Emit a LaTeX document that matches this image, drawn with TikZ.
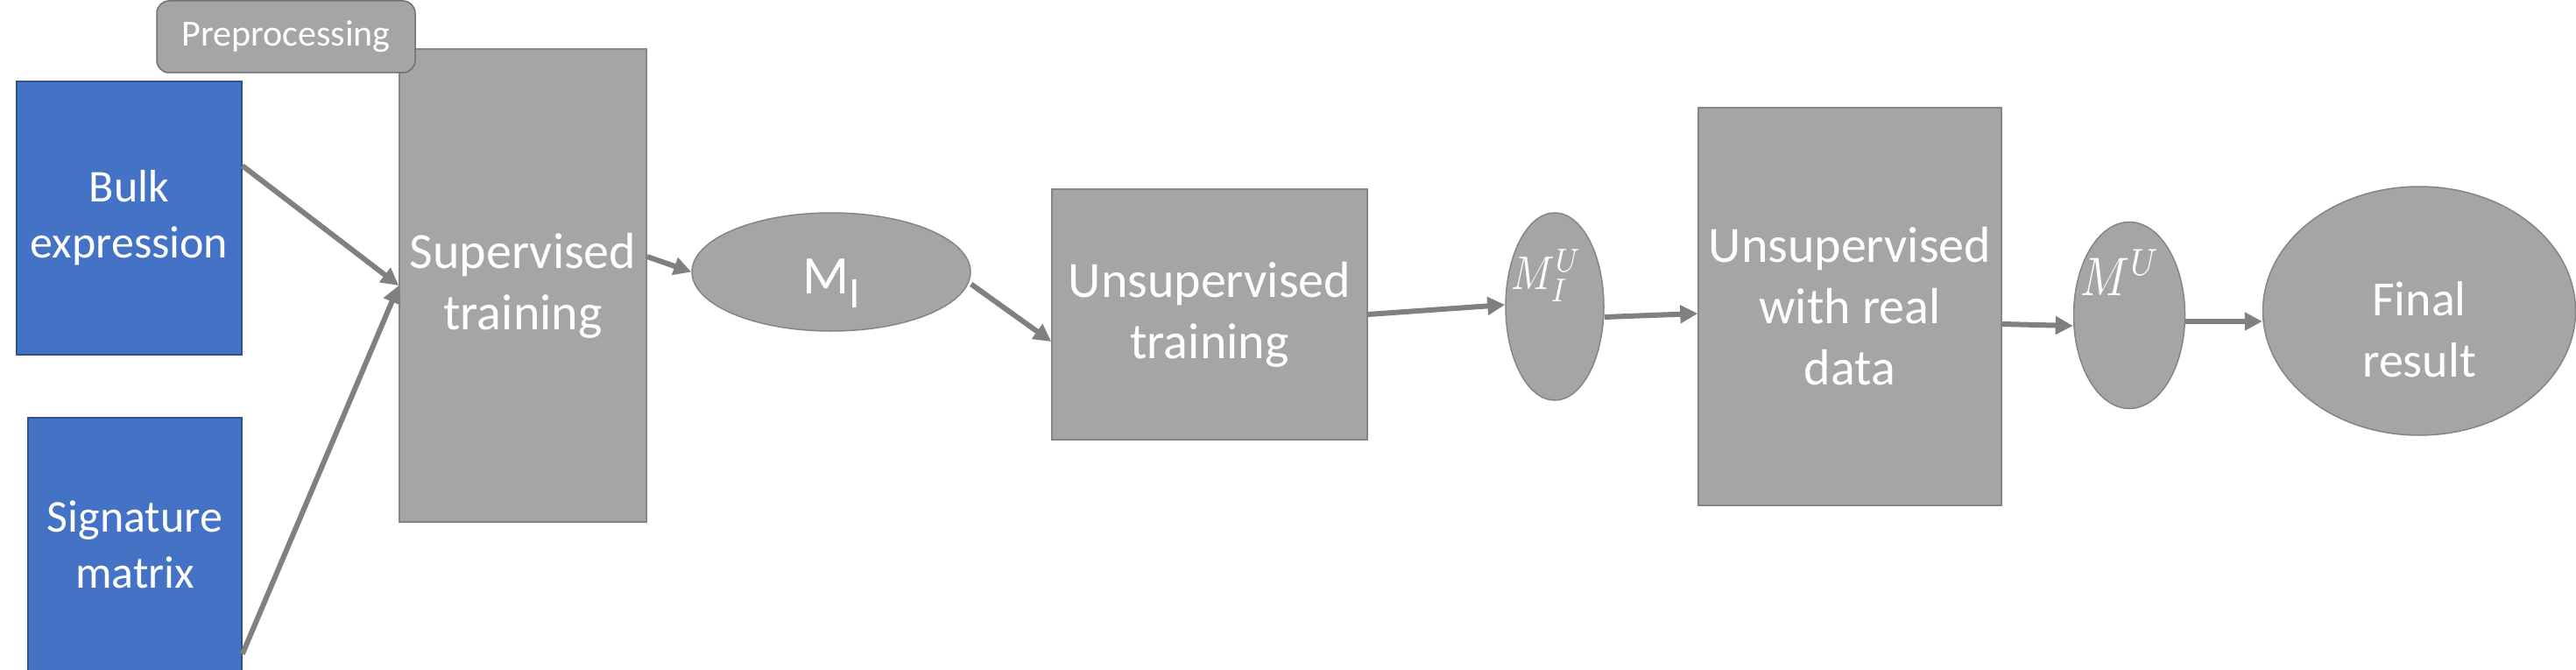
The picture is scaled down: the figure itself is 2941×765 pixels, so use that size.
\documentclass[tikz,border=0pt]{standalone}
\usepackage{graphicx}
\usepackage{fontspec}
\setmainfont{Carlito}
\usetikzlibrary{shapes.geometric,arrows.meta}
\definecolor{boxgray}{HTML}{A5A5A5}
\definecolor{edgegray}{HTML}{858585}
\definecolor{arrgray}{HTML}{808080}
\definecolor{blueone}{HTML}{4472C4}
\definecolor{blueedge}{HTML}{2F528F}
\begin{document}
\begin{tikzpicture}[x=1pt,y=-1pt,
  graybox/.style={draw=edgegray,line width=1.5pt,fill=boxgray,inner sep=0pt,text=white,align=center},
  bluebox/.style={draw=blueedge,line width=1.5pt,fill=blueone,inner sep=0pt,text=white,align=center},
  grayell/.style={ellipse,draw=edgegray,line width=1.5pt,fill=boxgray,inner sep=0pt},
  lbl/.style={text=white,align=center,inner sep=0pt},
  arr/.style={draw=arrgray,line width=6pt,-{Triangle[length=20pt,width=20pt]}},
  bigtxt/.style={font=\fontsize{58}{70}\selectfont},
  midtxt/.style={font=\fontsize{52}{64}\selectfont}
]
\useasboundingbox (0,0) rectangle (2941,765);

% input boxes
\node[bluebox,midtxt,minimum width=257pt,minimum height=312pt] (bulk) at (147.5,249) {Bulk\\expression};
\node[bluebox,midtxt,minimum width=244pt,minimum height=290pt] (sig) at (154,622) {Signature\\matrix};

% supervised training + preprocessing tag
\node[graybox,bigtxt,minimum width=282pt,minimum height=540pt] (sup) at (597,326) {Supervised\\training};
\node[graybox,draw=edgegray!85!black,rounded corners=14pt,minimum width=295pt,minimum height=82pt,font=\fontsize{42}{50}\selectfont] (pre) at (326.5,42) {Preprocessing};

% M_I
\node[grayell,minimum width=318pt,minimum height=135pt] (mi) at (949,310.5) {};
\node[lbl,anchor=base,font=\fontsize{62}{70}\selectfont] (milbl) at (949,335) {M\raisebox{-16pt}{\fontsize{50}{50}\selectfont I}};

% unsupervised training
\node[graybox,bigtxt,minimum width=360pt,minimum height=286pt] (unsup) at (1381,359) {Unsupervised\\training};

% M_I^U
\node[grayell,minimum width=112pt,minimum height=214pt] (miu) at (1775,350) {};
\node[lbl,anchor=base] (miulbl) at (1766,330) {\scalebox{4.6}[5.4]{$M_I^U$}};

% unsupervised with real data
\node[graybox,bigtxt,minimum width=346pt,minimum height=454pt] (real) at (2112,350) {Unsupervised\\with real\\data};

% M^U
\node[grayell,minimum width=127pt,minimum height=213pt] (mu) at (2431,360) {};
\node[lbl,anchor=base] (mulbl) at (2421,337) {\scalebox{5.2}[6.2]{$M^U$}};

% final result
\node[grayell,minimum width=357pt,minimum height=284pt] (fin) at (2762,355) {};
\node[lbl,font=\fontsize{56}{70}\selectfont] (finlbl) at (2762,376) {Final\\result};

% connectors
\draw[arr] ([yshift=-97pt]bulk.north east) -- (sup.west);
\draw[arr] ([yshift=21pt]sig.south east) -- (sup.west);
\draw[arr] ([yshift=33pt]sup.east) -- (mi.west);
\draw[arr] ([yshift=-14pt]mi.east) -- ([yshift=-31pt]unsup.west);
\draw[arr] (unsup.east) -- ([yshift=2pt]miu.west);
\draw[arr] ([yshift=-12pt]miu.east) -- ([yshift=-8pt]real.west);
\draw[arr] ([yshift=-20pt]real.east) -- ([yshift=-12pt]mu.west);
\draw[arr] ([yshift=-7pt]mu.east) -- ([yshift=-12pt]fin.west);
\end{tikzpicture}
\end{document}
